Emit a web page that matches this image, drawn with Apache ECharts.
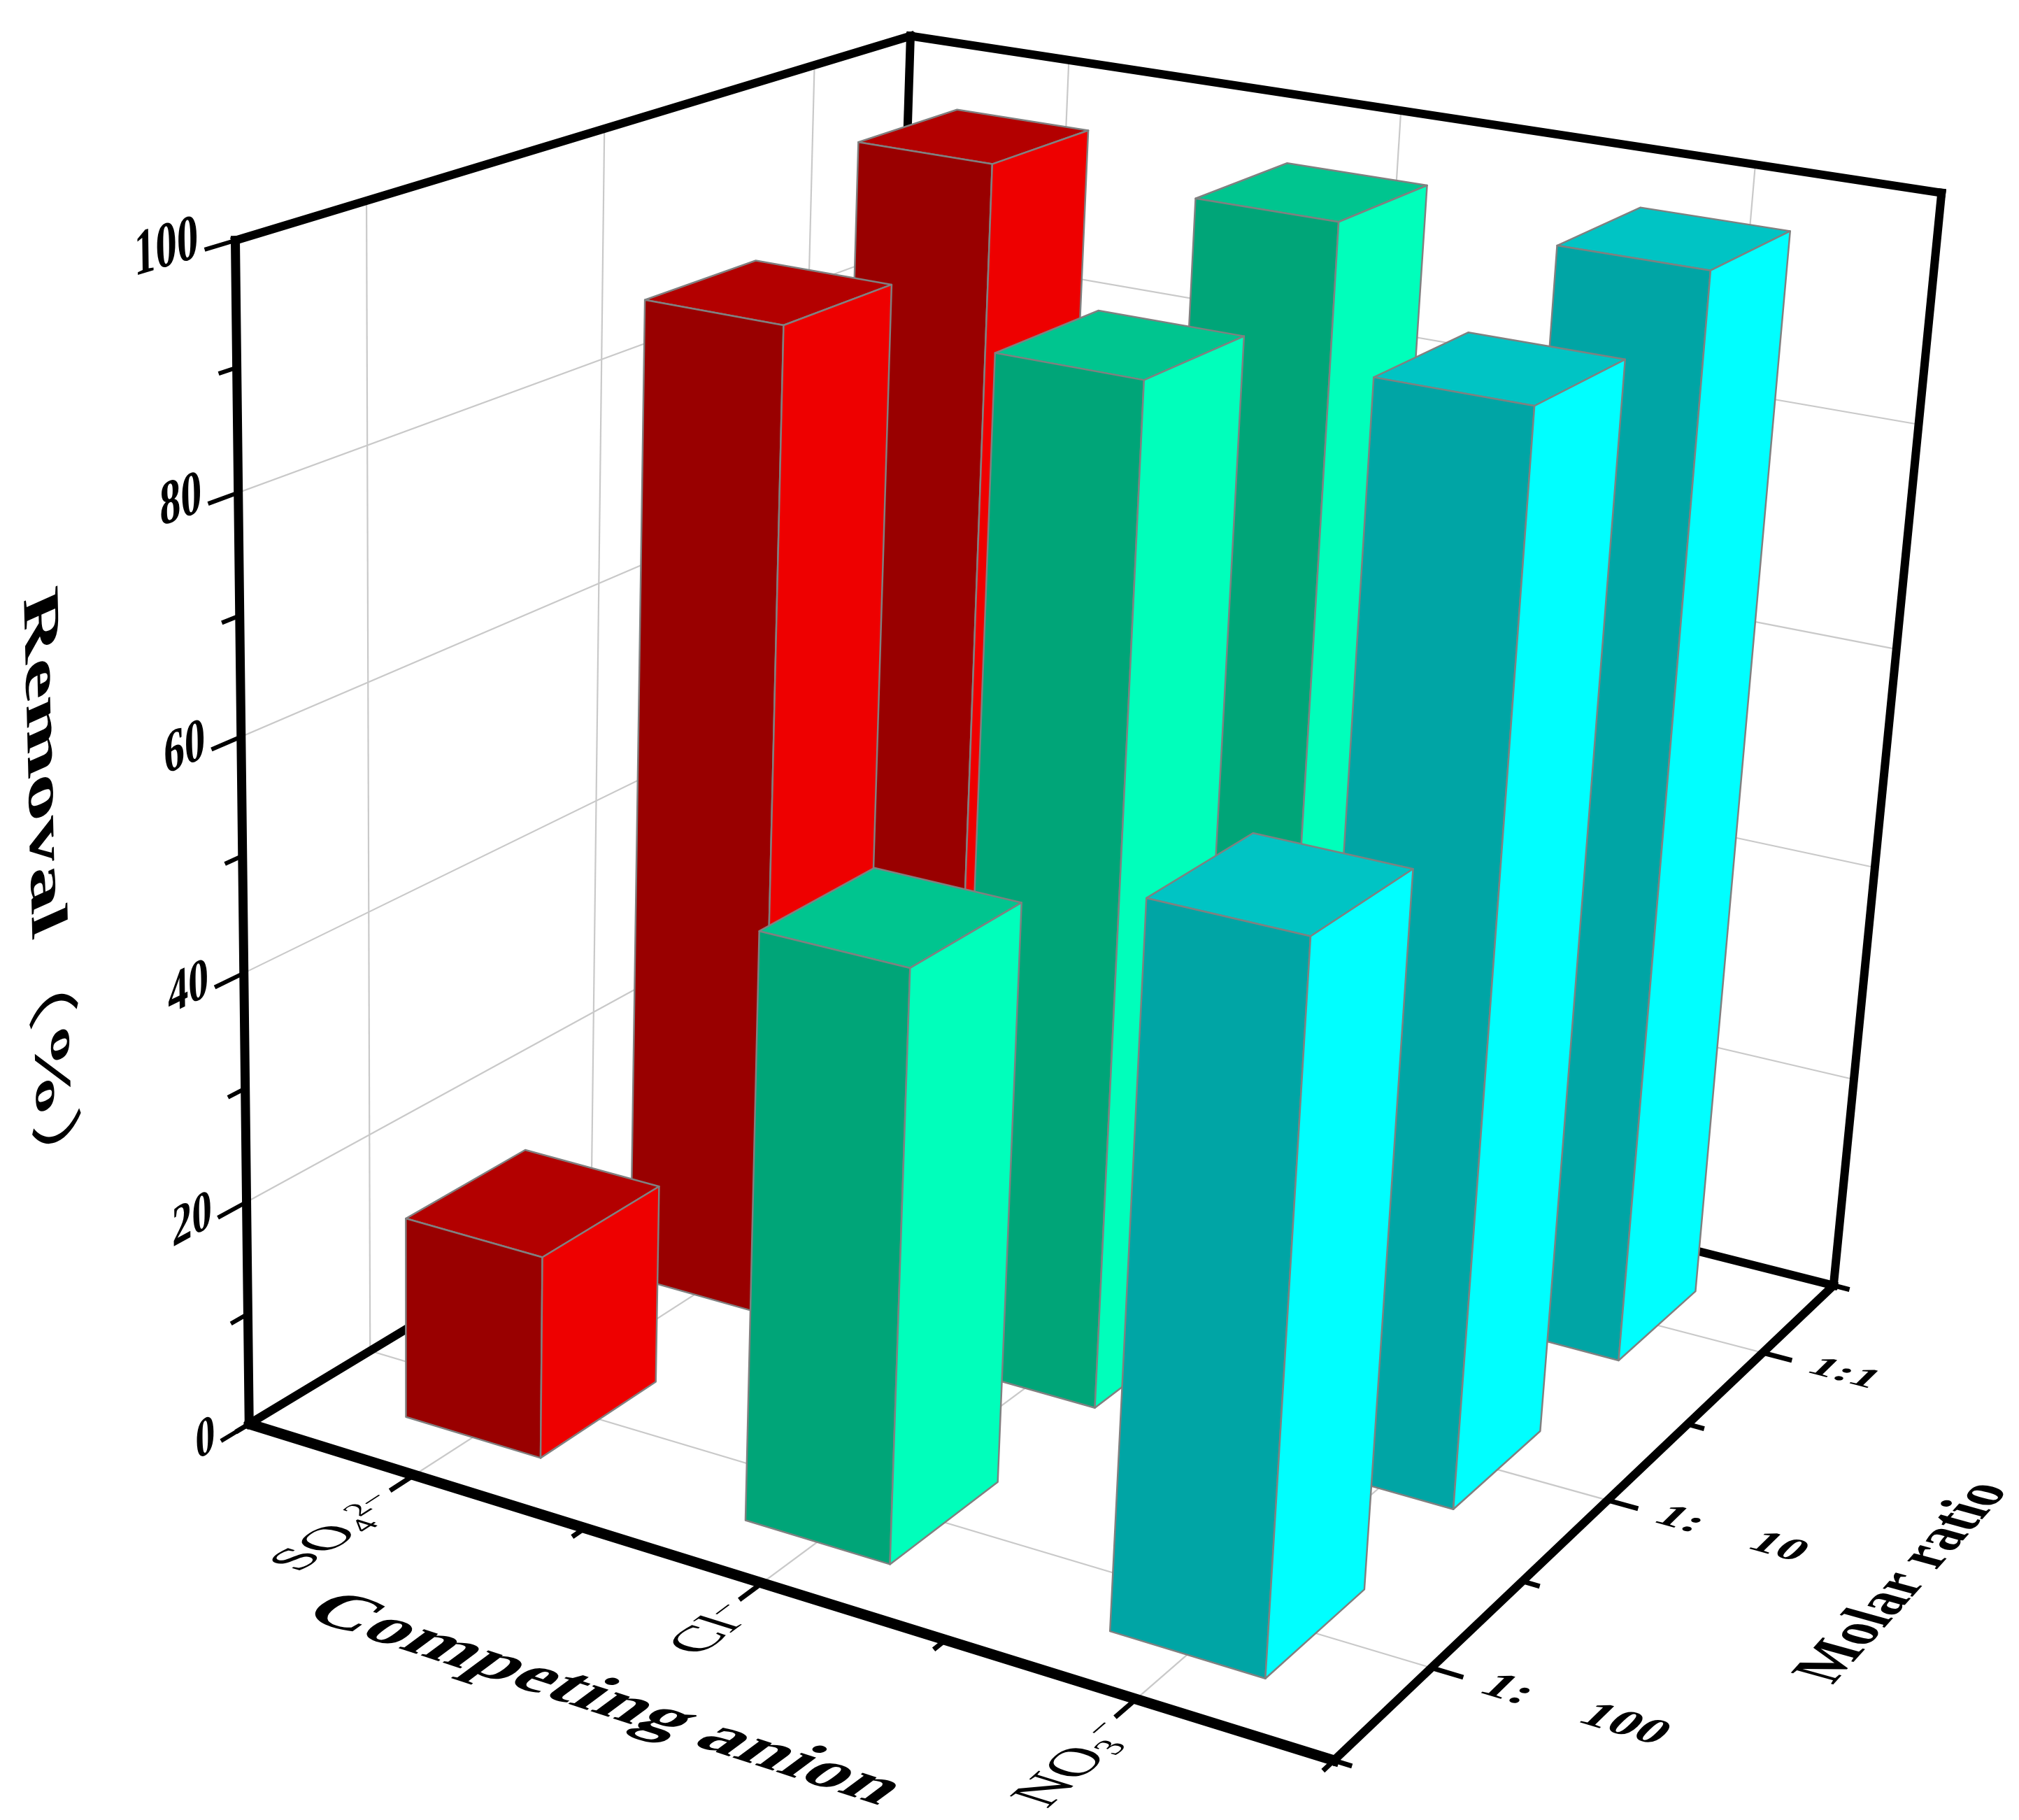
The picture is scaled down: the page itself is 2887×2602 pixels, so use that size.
<!DOCTYPE html>
<html><head><meta charset="utf-8">
<style>html,body{margin:0;padding:0;background:#fff}#c{width:2887px;height:2602px}</style>
<script src="https://cdn.jsdelivr.net/npm/echarts@6/dist/echarts.min.js"></script>
</head><body><div id="c"></div>
<script>
// ---- data ----
const anionLabels = ['SO{s|4}{p|2−}', 'Cl{p|−}', 'NO{s|3}{p|−}'];
const ratioLabels = ['1:    100', '1:    10', '1:1'];
const removalTicks = [0, 20, 40, 60, 80, 100];
const removalSO4 = [18.0, 88.5, 95.9];
const removalCl = [50.6, 89.4, 95.8];
const removalNO3 = [60.6, 92.9, 96.8];
const frontColors = ['#990000', '#00A578', '#00A5A5'];
const sideColors = ['#EE0000', '#00FFBB', '#00FFFF'];
const topColors = ['#B30000', '#00C58F', '#00C4C4'];

// ---- camera: 3x4 projection fitted to where the box sits on the page ----
const anchors = [
 [0,0,0,356,2034],[1,0,0,1914,2512],[1,1,0,2622,1840],[0,0,1,337,338],[0,1,1,1301,48],[1,1,1,2775,276],
 [0,0,.2,352,1724],[0,0,.4,349,1394],[0,0,.6,345,1058],[0,0,.8,341,704],
 [1/6,0,0,591,2104],[.5,0,0,1093,2259],[5/6,0,0,1611,2440],
 [1,1/6,0,2048,2382],[1,.5,0,2303,2143],[1,5/6,0,2520,1934],
 [0,1/6,1,525,289],[0,.5,1,865,184],[0,5/6,1,1165,92],
 [1/6,1,1,1527,90],[.5,1,1,2007,157],[5/6,1,1,2507,235],[0,1/6,0,529,1930]
];
function solveCamera(pts){
  const n=11, N=Array.from({length:n},()=>new Array(n+1).fill(0));
  const add=(r,b)=>{for(let i=0;i<n;i++){for(let j=0;j<n;j++)N[i][j]+=r[i]*r[j];N[i][n]+=r[i]*b;}};
  pts.forEach(([X,Y,Z,px,py])=>{const x=px/1000,y=py/1000;
    add([X,Y,Z,1,0,0,0,0,-x*X,-x*Y,-x*Z],x);add([0,0,0,0,X,Y,Z,1,-y*X,-y*Y,-y*Z],y);});
  for(let i=0;i<n;i++){let p=i;for(let k=i+1;k<n;k++)if(Math.abs(N[k][i])>Math.abs(N[p][i]))p=k;
    [N[i],N[p]]=[N[p],N[i]];
    for(let k=0;k<n;k++){if(k===i)continue;const f=N[k][i]/N[i][i];for(let j=i;j<=n;j++)N[k][j]-=f*N[i][j];}}
  return N.map((r,i)=>r[n]/r[i]);
}
const C=solveCamera(anchors);
function proj(X,Y,Z){const w=C[8]*X+C[9]*Y+C[10]*Z+1;
  return [1000*(C[0]*X+C[1]*Y+C[2]*Z+C[3])/w,1000*(C[4]*X+C[5]*Y+C[6]*Z+C[7])/w];}

// ---- hidden axes give the scales ----
const GRID={left:0,top:0,width:1000,height:1000};
function scaler(api){return (a,r,v)=>[
  (api.coord([a,0])[0]-GRID.left)/GRID.width,
  (api.coord([r,0])[0]-GRID.left)/GRID.width,
  1-(api.coord([a,v])[1]-GRID.top)/GRID.height];}

const BAR_X=0.405, BAR_Y=0.51;
function renderBar(params,api){
  const S=scaler(api), a=api.value(0), v=api.value(1), r=api.value(2), k=a-1;
  const [x0,y0,z1]=S(a-BAR_X/2,r-BAR_Y/2,v), [x1,y1,z0]=S(a+BAR_X/2,r+BAR_Y/2,0);
  const edge={stroke:'#808080',lineWidth:2.5,lineJoin:'round'};
  const poly=(pts,fill)=>({type:'polygon',shape:{points:pts.map(p=>proj(p[0],p[1],p[2]))},style:Object.assign({fill},edge)});
  return {type:'group',children:[
    poly([[x0,y0,z1],[x1,y0,z1],[x1,y1,z1],[x0,y1,z1]],topColors[k]),
    poly([[x0,y0,z0],[x1,y0,z0],[x1,y0,z1],[x0,y0,z1]],frontColors[k]),
    poly([[x1,y0,z0],[x1,y1,z0],[x1,y1,z1],[x1,y0,z1]],sideColors[k])
  ]};
}
const FAMILY='"Liberation Serif","Noto Sans CJK SC",serif';
const RICH={
  s:{fontSize:60,fontFamily:FAMILY,verticalAlign:'bottom',fill:'#000'},
  p:{fontSize:58,fontFamily:FAMILY,verticalAlign:'top',fill:'#000'},
  b:{fontSize:100,fontFamily:FAMILY,fontWeight:'bold',fill:'#000'},
  t:{fontSize:100,fontFamily:FAMILY,fontWeight:'normal',fill:'#000'}
};
// affine text: u, v = screen vectors of one em along baseline and glyph-up
function planeText(text,p,u,v,font,align){
  const F=100,m00=u[0]/F,m10=u[1]/F,m01=-v[0]/F,m11=-v[1]/F;
  const E=(m00+m11)/2,Fi=(m00-m11)/2,G=(m10+m01)/2,H=(m10-m01)/2;
  const Q=Math.hypot(E,H),R=Math.hypot(Fi,G),a1=Math.atan2(G,Fi),a2=Math.atan2(H,E);
  return {type:'group',x:p[0],y:p[1],rotation:-(a2+a1)/2,scaleX:Q+R,scaleY:Q-R,children:[
    {type:'text',rotation:-(a2-a1)/2,style:{text,x:0,y:0,fill:'#000',align:align||'center',verticalAlign:'middle',rich:RICH,
      fontSize:F,fontFamily:FAMILY,fontWeight:font||'bold'}}]};
}
function placed(text,P,du,dv,weight,align){
  const o=proj(...P),a=proj(P[0]+du[0],P[1]+du[1],P[2]+du[2]),b=proj(P[0]+dv[0],P[1]+dv[1],P[2]+dv[2]);
  return planeText(text,o,[a[0]-o[0],a[1]-o[1]],[b[0]-o[0],b[1]-o[1]],weight,align);
}
function renderFrame(params,api){
  const S=scaler(api), c=[];
  const line=(A,B,w,col)=>{const a=proj(...A),b=proj(...B);c.push({type:'line',shape:{x1:a[0],y1:a[1],x2:b[0],y2:b[1]},
    style:{stroke:col||'#000',lineWidth:w,lineCap:'square'}});};
  const GR='#c9c9c9';
  // gridlines
  [1,2,3].forEach(t=>{const x=S(t,0,0)[0];
    line([x,0,0],[x,1,0],2.2,GR);line([x,1,0],[x,1,1],2.2,GR);
    line([0,x,0],[1,x,0],2.2,GR);line([0,x,0],[0,x,1],2.2,GR);});
  removalTicks.slice(1,-1).forEach(t=>{const z=S(1,1,t)[2];line([0,0,z],[0,1,z],2.2,GR);line([0,1,z],[1,1,z],2.2,GR);});
  // box
  [[[0,0,0],[0,0,1],13],[[0,1,0],[0,1,1],12],[[1,1,0],[1,1,1],12],[[0,0,0],[1,0,0],15],[[1,0,0],[1,1,0],12],
   [[0,0,0],[0,1,0],12],[[0,1,0],[1,1,0],12],[[0,0,1],[0,1,1],12],[[0,1,1],[1,1,1],12]].forEach(l=>line(l[0],l[1],l[2]));
  // z ticks + labels
  removalTicks.forEach(t=>{const z=S(1,1,t)[2];line([0,0,z],[0,-.035,z],6);
    c.push(placed(String(t),[0,-.045,z+.009],[0,.052,0],[0,0,.05],'bold','right'));
    if(t<100){const m=S(1,1,t+10)[2];line([0,0,m],[0,-.02,m],6);}});
  // anion ticks + labels
  anionLabels.forEach((l,i)=>{const x=S(i+1,0,0)[0];line([x,0,0],[x,-.03,0],7);
    c.push(placed(l,[x+.01,-.042,0],[0,.068,0],[-.05,0,0],'normal','right'));});
  [.5,1.5,2.5,3.5].forEach(t=>{const x=S(t,0,0)[0];line([x,0,0],[x,-.015,0],7);});
  // ratio ticks + labels
  ratioLabels.forEach((l,i)=>{const y=S(1,i+1,0)[1];line([1,y,0],[1.025,y,0],7);
    c.push(placed(l,[1.045,y,0],[.045,0,0],[0,.057,0],'bold','left'));});
  [.5,1.5,2.5,3.5].forEach(t=>{const y=S(1,t,0)[1];line([1,y,0],[1.013,y,0],7);});
  // axis names
  c.push(placed('Competing anion',[.5,-.22,0],[.07,0,0],[0,.075,0],'bold'));
  c.push(placed('Molar ratio',[1.257,.5,0],[0,.08,0],[-.055,0,0],'bold'));
  c.push(placed('{b|Removal}{t|（}{b|%}{t|）}',[0,-.24,.537],[0,0,-.0735],[0,.06,0],'bold'));
  return {type:'group',children:c};
}
// back to front: far ratio first, then left to right
const barRows=[];
[2,1,0].forEach(r=>{[removalSO4,removalCl,removalNO3].forEach((vals,a)=>barRows.push([a+1,vals[r],r+1]));});

const chart=echarts.init(document.getElementById('c'),null,{renderer:'canvas'});
chart.setOption({
  animation:false,
  backgroundColor:'#fff',
  grid:Object.assign({show:false},GRID),
  xAxis:{type:'value',min:.5,max:3.5,show:false},
  yAxis:{type:'value',min:0,max:100,show:false},
  series:[
    {type:'custom',name:'frame',silent:true,z:1,renderItem:renderFrame,data:[[1,0]],encode:{x:0,y:1}},
    {type:'custom',name:'Removal',silent:true,z:2,renderItem:renderBar,data:barRows,encode:{x:0,y:1}}
  ]
});
</script></body></html>
